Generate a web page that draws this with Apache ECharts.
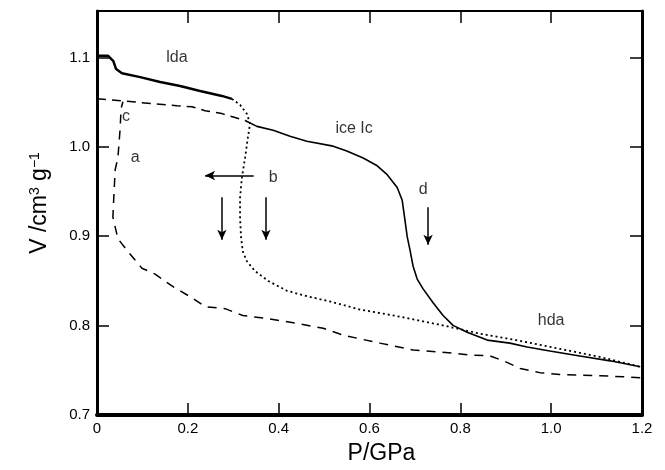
<!DOCTYPE html>
<html>
<head>
<meta charset="utf-8">
<script src="https://cdn.jsdelivr.net/npm/echarts@6/dist/echarts.min.js"></script>
<style>
html,body{margin:0;padding:0;background:#fff;}
#chart{width:665px;height:470px;}
</style>
</head>
<body>
<div id="chart"></div>
<script>
// ---- data (P in GPa, V in cm3/g) ----
const xTicks = [0, 0.2, 0.4, 0.6, 0.8, 1.0, 1.2];
const yTicks = [0.7, 0.8, 0.9, 1.0, 1.1];

// lda compression (solid)
const ldaCompression = [
  [0.002,1.102],[0.024,1.102],[0.036,1.096],[0.042,1.087],[0.055,1.0824],
  [0.095,1.078],[0.139,1.0725],[0.183,1.068],[0.227,1.0625],[0.275,1.057],[0.297,1.0537]
];
// lda -> hda transition and hda compression (dotted)
const ldaToHda = [
  [0.297,1.0537],[0.315,1.047],[0.330,1.037],[0.337,1.026],[0.332,1.0096],
  [0.326,0.9876],[0.319,0.9656],[0.315,0.9435],[0.315,0.9215],[0.317,0.8995],
  [0.321,0.883],[0.330,0.872],[0.348,0.861],[0.377,0.850],[0.418,0.839],
  [0.462,0.833],[0.513,0.827],[0.579,0.818],[0.667,0.810],[0.755,0.801],
  [0.843,0.791],[0.931,0.783],[1.019,0.774],[1.107,0.765],[1.196,0.754]
];
// second low-pressure branch (dashed)
const lowBranch = [
  [0.0,1.0537],[0.057,1.0515],[0.123,1.0482],[0.176,1.046],[0.209,1.0449],
  [0.238,1.0405],[0.275,1.0372],[0.304,1.0328],[0.326,1.0295]
];
// ice Ic compression (solid)
const iceIc = [
  [0.326,1.0295],[0.352,1.0229],[0.388,1.0185],[0.425,1.0118],[0.462,1.0063],
  [0.520,1.0008],[0.550,0.9953],[0.586,0.9876],[0.617,0.9788],[0.639,0.9689],
  [0.661,0.9545],[0.672,0.9402],[0.678,0.9182],[0.683,0.8995],[0.689,0.8851],
  [0.696,0.8664],[0.705,0.8521],[0.718,0.8411],[0.740,0.8256],[0.762,0.8113],
  [0.784,0.8003],[0.815,0.7926],[0.859,0.7838],[0.909,0.7804],[0.947,0.776],
  [0.997,0.7716],[1.063,0.7661],[1.130,0.7606],[1.196,0.754]
];
// hda decompression (long dashed)
const hdaDecompression = [
  [1.196,0.7418],[1.107,0.744],[1.019,0.7452],[0.975,0.7474],[0.932,0.752],
  [0.898,0.760],[0.865,0.7661],[0.821,0.7672],[0.755,0.7705],[0.696,0.7727],
  [0.623,0.7804],[0.542,0.7893],[0.498,0.797],[0.440,0.8025],[0.374,0.808],
  [0.321,0.8113],[0.282,0.819],[0.238,0.8212],[0.209,0.8311],[0.165,0.8444],
  [0.128,0.8576],[0.099,0.8642],[0.068,0.883],[0.046,0.8973],[0.035,0.9215],
  [0.037,0.9435],[0.040,0.9744],[0.046,0.9876],[0.051,1.0207],[0.053,1.0427],[0.057,1.0504]
];
// annotation texts and their data positions
const labelTexts = ['lda', 'ice Ic', 'hda', 'c', 'a', 'b', 'd'];
const labelP = [0.176, 0.566, 1.0, 0.064, 0.084, 0.388, 0.718];
const labelV = [1.100, 1.0207, 0.806, 1.034, 0.9876, 0.9656, 0.952];
// arrows: [P, Vstart, Vend]
const arrowP = [0.275, 0.372, 0.729];
const arrowV0 = [0.9435, 0.9435, 0.9325];
const arrowV1 = [0.896, 0.896, 0.8906];

const FONT = 'Liberation Sans';
const chart = echarts.init(document.getElementById('chart'), null, {renderer: 'canvas'});

const arrowLines = arrowP.map((p, i) => [
  {coord: [p, arrowV0[i]]},
  {coord: [p, arrowV1[i]]}
]);
// left-pointing arrow near the lda->hda transition
arrowLines.push([{coord: [0.345, 0.968]}, {coord: [0.238, 0.968]}]);

const tickStyle = {inside: true, length: 12, lineStyle: {color: '#000', width: 1.5}};

const option = {
  animation: false,
  backgroundColor: '#fff',
  grid: {left: 97, right: 23, top: 11, bottom: 49},
  xAxis: [{
    type: 'value', min: 0, max: 1.2, interval: 0.2, position: 'bottom',
    name: 'P/GPa', nameLocation: 'middle', nameGap: 27,
    nameTextStyle: {fontFamily: FONT, fontSize: 23, color: '#000', padding: [0,0,0,24]},
    axisLine: {onZero: false, lineStyle: {color: '#000', width: 4}},
    axisTick: tickStyle,
    axisLabel: {fontFamily: FONT, fontSize: 15, color: '#000', margin: 6,
      formatter: v => (v === 0 ? '0' : v.toFixed(1))},
    splitLine: {show: false}
  }, {
    type: 'value', min: 0, max: 1.2, interval: 0.2, position: 'top',
    axisLine: {onZero: false, lineStyle: {color: '#000', width: 2}},
    axisTick: tickStyle,
    axisLabel: {show: false}, splitLine: {show: false}
  }],
  yAxis: [{
    type: 'value', min: 0.7, max: 1.152, interval: 0.1, position: 'left',
    name: 'V /cm{sup|3} g{sup|−1}', nameLocation: 'middle', nameGap: 46, nameRotate: 90,
    nameTextStyle: {fontFamily: FONT, fontSize: 23, color: '#000', padding: [0,0,0,20],
      rich: {sup: {fontFamily: FONT, fontSize: 14, verticalAlign: 'top', color: '#000'}}},
    axisLine: {onZero: false, lineStyle: {color: '#000', width: 3}},
    axisTick: tickStyle,
    axisLabel: {fontFamily: FONT, fontSize: 15, color: '#000', margin: 7,
      formatter: v => (Math.abs(v * 10 - Math.round(v * 10)) < 1e-6 ? v.toFixed(1) : '')},
    splitLine: {show: false}
  }, {
    type: 'value', min: 0.7, max: 1.152, interval: 0.1, position: 'right',
    axisLine: {onZero: false, lineStyle: {color: '#000', width: 3}},
    axisTick: tickStyle,
    axisLabel: {show: false}, splitLine: {show: false}
  }],
  series: [
    {type: 'line', data: ldaCompression, symbol: 'none', lineStyle: {color: '#000', width: 2.5}},
    {type: 'line', data: ldaToHda, symbol: 'none', lineStyle: {color: '#000', width: 1.8, type: [2, 3]}},
    {type: 'line', data: lowBranch, symbol: 'none', lineStyle: {color: '#000', width: 1.5, type: [9, 6]}},
    {type: 'line', data: iceIc, symbol: 'none', lineStyle: {color: '#000', width: 1.6}},
    {type: 'line', data: hdaDecompression, symbol: 'none', lineStyle: {color: '#000', width: 1.5, type: [9, 7]},
      markLine: {
        silent: true, symbol: ['none', 'arrow'], symbolSize: [7, 10],
        label: {show: false},
        lineStyle: {color: '#000', width: 1.5, type: 'solid'},
        data: arrowLines
      }},
    {type: 'scatter', symbolSize: 0, silent: true,
      data: labelTexts.map((t, i) => ({value: [labelP[i], labelV[i]], name: t})),
      label: {show: true, position: 'inside', formatter: p => p.name,
        fontFamily: FONT, fontSize: 16, color: '#000'}}
  ]
};
chart.setOption(option);
</script>
</body>
</html>
